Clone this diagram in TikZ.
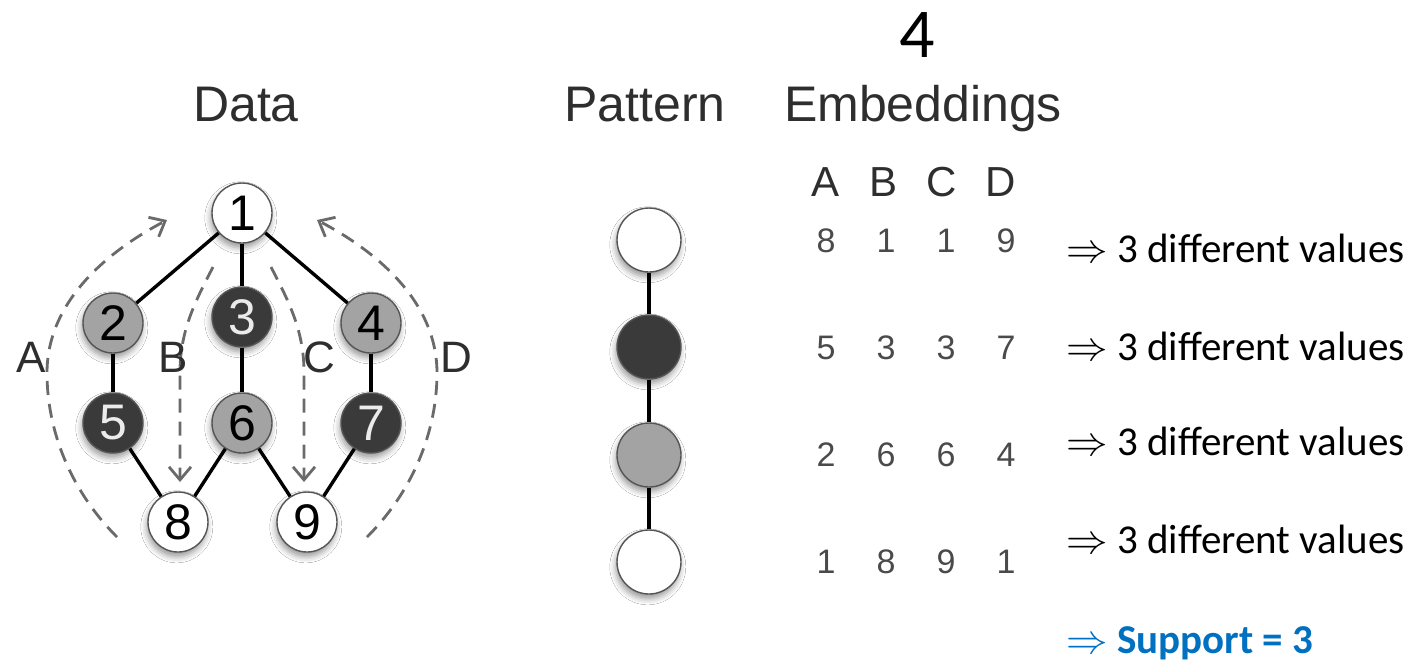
\documentclass[tikz,border=0pt]{standalone}
\usepackage{fontspec}
\setmainfont{Liberation Sans}
\newfontfamily\calibri{Carlito}
\usetikzlibrary{arrows.meta,positioning,shadows.blur}
\definecolor{nodeDark}{HTML}{3A3A3A}
\definecolor{nodeGray}{HTML}{A3A3A3}
\definecolor{rimGray}{HTML}{555555}
\definecolor{labelInk}{HTML}{2E2E2E}
\definecolor{embInk}{HTML}{4A4A4A}
\definecolor{walkGray}{HTML}{6A6A6A}
\definecolor{supportBlue}{HTML}{0070C0}

\begin{document}
\begin{tikzpicture}[
  x=0.5pt, y=-0.5pt,
  >={Straight Barb[length=6.5pt,width=11pt]},
  vtx/.style={circle, draw=rimGray, line width=0.7pt, minimum size=30pt, inner sep=0pt,
              font=\fontsize{25}{25}\selectfont,
              blur shadow={shadow xshift=-0.6pt, shadow yshift=-2.4pt,
                           shadow blur radius=3pt, shadow opacity=40}},
  lightv/.style={vtx, fill=white, text=black},
  grayv/.style={vtx, fill=nodeGray, text=black},
  darkv/.style={vtx, fill=nodeDark, text=white!92!black},
  patv/.style={minimum size=32pt},
  link/.style={line width=1.7pt, black},
  walk/.style={->, walkGray, line width=1.4pt, dash pattern=on 7pt off 4.5pt},
  heading/.style={font=\fontsize{25}{25}\selectfont, text=labelInk, anchor=base, inner sep=0pt},
  walkname/.style={font=\fontsize{22}{22}\selectfont, text=labelInk, inner sep=0pt},
  colname/.style={font=\fontsize{21}{21}\selectfont, text=labelInk, anchor=base, inner sep=0pt},
  embval/.style={font=\fontsize{17}{17}\selectfont, text=embInk, anchor=base, inner sep=0pt},
  verdict/.style={font=\calibri\fontsize{20.5}{20.5}\selectfont, anchor=base west, inner sep=0pt},
]
\path[use as bounding box, fill=white] (0,0) rectangle (1410,661);

% headings
\node[heading] (hdata) at (246,121) {Data};
\node[heading] (hpat) at (645,121) {Pattern};
\node[heading] (hemb) at (923,121) {Embeddings};
\node[font=\calibri\fontsize{35}{35}\selectfont, anchor=base, inner sep=0pt] (count) at (917,57) {4};

% data graph
\node[lightv] (n1) at (242,213) {1};
\node[grayv]  (n2) at (113,323) {2};
\node[darkv]  (n3) at (242,317) {3};
\node[grayv]  (n4) at (371,323) {4};
\node[darkv]  (n5) at (113,423) {5};
\node[grayv]  (n6) at (242,423) {6};
\node[darkv]  (n7) at (371,423) {7};
\node[lightv] (n8) at (178,522) {8};
\node[lightv] (n9) at (307,522) {9};
\foreach \u/\v in {n1/n2, n1/n3, n1/n4, n2/n5, n3/n6, n4/n7, n5/n8, n6/n8, n6/n9, n7/n9}
  \draw[link] (\u) -- (\v);

% the four walks A-D
\coordinate (aFrom) at (117,537);
\coordinate (aTo)   at (167,220);
\coordinate (bFrom) at (213,267);
\coordinate (bTo)   at (180,482);
\coordinate (cFrom) at (271,267);
\coordinate (cTo)   at (304,482);
\coordinate (dFrom) at (367,537);
\coordinate (dTo)   at (317,220);
\draw[walk] (aFrom) .. controls (70,490) and (47,430) .. (47,373)
                    .. controls (47,300) and (110,250) .. (aTo);
\draw[walk] (dFrom) .. controls (414,490) and (437,430) .. (437,373)
                    .. controls (437,300) and (374,250) .. (dTo);
\draw[walk] (bFrom) .. controls (196,300) and (180,330) .. (180,372) -- (bTo);
\draw[walk] (cFrom) .. controls (288,300) and (304,330) .. (304,372) -- (cTo);
\node[walkname] (wa) at (31,357) {A};
\node[walkname] (wb) at (173,357) {B};
\node[walkname] (wc) at (319,357) {C};
\node[walkname] (wd) at (456,357) {D};

% pattern: a path of four vertices
\node[lightv, patv] (p1) at (649,240) {};
\node[darkv, patv]  (p2) at (649,347) {};
\node[grayv, patv]  (p3) at (649,455) {};
\node[lightv, patv] (p4) at (649,562) {};
\draw[link, line width=2pt] (p1) -- (p2);
\draw[link, line width=2pt] (p2) -- (p3);
\draw[link, line width=2pt] (p3) -- (p4);

% embeddings table
\foreach \c/\x in {A/826, B/884, C/942, D/1001}
  \node[colname] (col\c) at (\x,196) {\c};
\foreach \a/\b/\c/\d/\y [count=\r] in {8/1/1/9/252, 5/3/3/7/359, 2/6/6/4/466, 1/8/9/1/573} {
  \node[embval] (e\r a) at (826,\y) {\a};
  \node[embval] (e\r b) at (886,\y) {\b};
  \node[embval] (e\r c) at (946,\y) {\c};
  \node[embval] (e\r d) at (1006,\y) {\d};
}

% distinct values per pattern vertex
\foreach \y [count=\r] in {262, 360, 455, 553}
  \node[verdict] (v\r) at (1066,\y) {$\Rightarrow$ 3 different values};
\node[verdict, text=supportBlue] (supp) at (1066,653) {$\Rightarrow$ \textbf{Support = 3}};
\end{tikzpicture}
\end{document}
